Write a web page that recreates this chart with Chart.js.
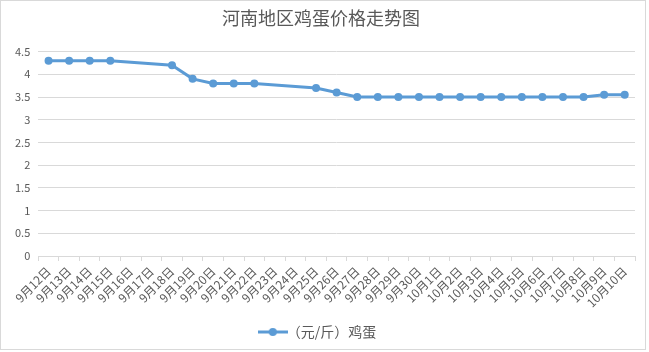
<!DOCTYPE html>
<html>
<head>
<meta charset="utf-8">
<script src="https://cdn.jsdelivr.net/npm/chart.js@4"></script>
<style>
  html, body { margin: 0; padding: 0; background: #fff; }
  #box { position: absolute; left: 0; top: 0; width: 644px; height: 348px; border: 1px solid #d9d9d9; background: #fff; }
  #wrap { position: absolute; left: 0; top: 0; width: 644px; height: 348px; }
</style>
</head>
<body>
<div id="box"><div id="wrap"><canvas id="grafico"></canvas></div></div>
<script>
const fechas = ['9月12日','9月13日','9月14日','9月15日','9月16日','9月17日','9月18日','9月19日','9月20日','9月21日',
  '9月22日','9月23日','9月24日','9月25日','9月26日','9月27日','9月28日','9月29日','9月30日','10月1日',
  '10月2日','10月3日','10月4日','10月5日','10月6日','10月7日','10月8日','10月9日','10月10日'];
const precios = [4.3, 4.3, 4.3, 4.3, null, null, 4.2, 3.9, 3.8, 3.8,
  3.8, null, null, 3.7, 3.6, 3.5, 3.5, 3.5, 3.5, 3.5,
  3.5, 3.5, 3.5, 3.5, 3.5, 3.5, 3.5, 3.55, 3.55];
const serie = '（元/斤）鸡蛋';
const titulo = '河南地区鸡蛋价格走势图';

const azul = '#5b9bd5';
const gris = '#595959';
const fuente = '"Noto Sans CJK SC", "Microsoft YaHei", sans-serif';

// icono de leyenda: linea con punto
const icono = document.createElement('canvas');
icono.width = 30; icono.height = 10;
const ic = icono.getContext('2d');
ic.strokeStyle = azul; ic.lineWidth = 3;
ic.beginPath(); ic.moveTo(0, 5); ic.lineTo(30, 5); ic.stroke();
ic.fillStyle = azul;
ic.beginPath(); ic.arc(15, 5, 4, 0, Math.PI * 2); ic.fill();

new Chart(document.getElementById('grafico').getContext('2d'), {
  type: 'line',
  data: {
    labels: fechas,
    datasets: [{
      label: serie,
      data: precios,
      borderColor: azul,
      backgroundColor: azul,
      borderWidth: 3,
      pointRadius: 4,
      pointBackgroundColor: azul,
      pointBorderWidth: 0,
      spanGaps: true,
      tension: 0
    }]
  },
  options: {
    responsive: true,
    maintainAspectRatio: false,
    animation: false,
    layout: { padding: { left: 6, right: 10, top: 0, bottom: 0 } },
    plugins: {
      title: {
        display: true,
        text: titulo,
        color: gris,
        font: { family: fuente, size: 18, weight: 'normal' },
        padding: { top: 6, bottom: 23 }
      },
      legend: {
        position: 'bottom',
        labels: {
          color: gris,
          font: { family: fuente, size: 14 },
          usePointStyle: true,
          generateLabels: chart => [{
            text: serie,
            pointStyle: icono,
            fontColor: gris,
            datasetIndex: 0,
            lineWidth: 0
          }],
          padding: 12
        }
      },
      tooltip: { enabled: false }
    },
    scales: {
      x: {
        offset: true,
        grid: { offset: true, drawOnChartArea: false, drawTicks: true, tickLength: 5, color: '#d9d9d9' },
        border: { display: true, color: '#d9d9d9' },
        ticks: {
          color: gris,
          font: { family: fuente, size: 12 },
          minRotation: 45,
          maxRotation: 45,
          autoSkip: false,
          padding: 3
        }
      },
      y: {
        min: 0,
        max: 4.5,
        ticks: {
          stepSize: 0.5,
          color: gris,
          font: { family: fuente, size: 11 },
          padding: 8,
          callback: v => String(v)
        },
        grid: { color: '#d9d9d9', drawTicks: false },
        border: { display: false }
      }
    }
  }
});
</script>
</body>
</html>
